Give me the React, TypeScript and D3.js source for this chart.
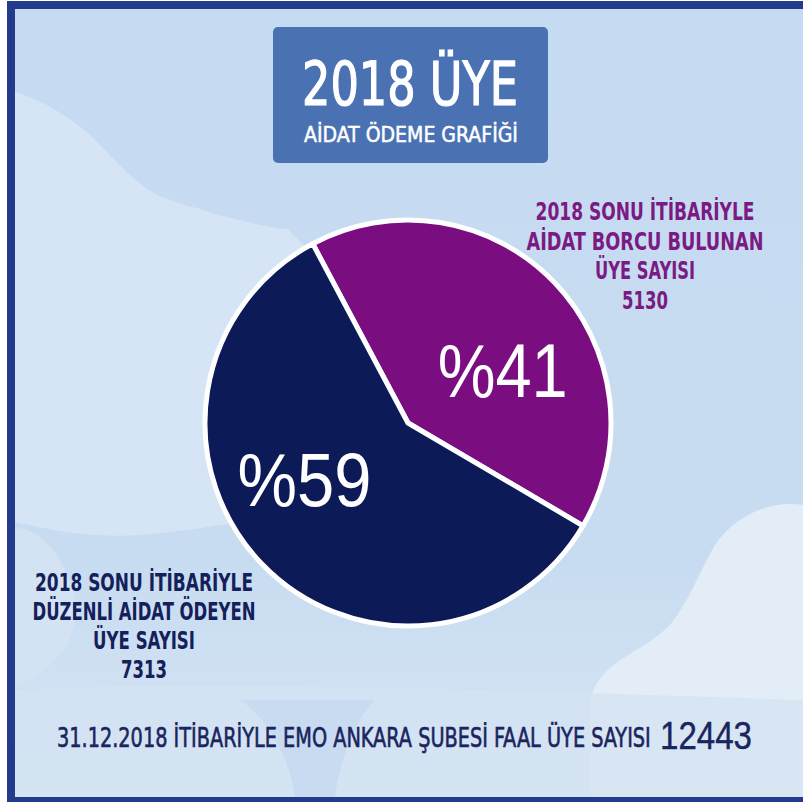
import React, { useLayoutEffect, useRef, useState } from "react";
import * as d3 from "d3";

const W = 803;
const H = 802;

// ---- data ----
const categories = ["Aidat borcu bulunan", "Düzenli aidat ödeyen"];
const values = [5130, 7313];
const percentLabels = ["%41", "%59"];
const totalMembers = 12443;
const colors = ["#7a0e80", "#0d1a58"];

const titleLine1 = "2018 ÜYE";
const titleLine2 = "AİDAT ÖDEME GRAFİĞİ";
const rightLabel = ["2018 SONU İTİBARİYLE", "AİDAT BORCU BULUNAN", "ÜYE SAYISI", String(values[0])];
const leftLabel = ["2018 SONU İTİBARİYLE", "DÜZENLİ AİDAT ÖDEYEN", "ÜYE SAYISI", String(values[1])];
const footerText = "31.12.2018 İTİBARİYLE EMO ANKARA ŞUBESİ FAAL ÜYE SAYISI";

// measured widths of the label lines in the reference
const rightWidths = [219, 237, 100, 46];
const leftWidths = [218, 223, 102, 46];

const NARROW = "'DejaVu Sans Condensed', 'DejaVu Sans', sans-serif";
const SANS = "'Liberation Sans', Arial, sans-serif";

type FitProps = {
  x: number;
  y: number;
  width: number;
  anchor?: "start" | "middle" | "end";
  baseline?: string;
  fill: string;
  family: string;
  size: number;
  weight?: string | number;
  thicken?: number;
  children: string;
};

function FitText({ x, y, width, anchor = "start", baseline, fill, family, size, weight, thicken = 0, children }: FitProps) {
  const ref = useRef<SVGTextElement>(null);
  const [s, setS] = useState(1);
  useLayoutEffect(() => {
    if (ref.current) {
      const w = ref.current.getComputedTextLength();
      if (w > 0) setS(width / w);
    }
  }, [width, children, size, family]);
  return (
    <g transform={`translate(${x},${y}) scale(${s},1)`}>
      <text
        ref={ref}
        x={0}
        y={0}
        textAnchor={anchor}
        dominantBaseline={baseline}
        fill={fill}
        stroke={thicken ? fill : undefined}
        strokeWidth={thicken || undefined}
        fontFamily={family}
        fontSize={size}
        fontWeight={weight}
      >
        {children}
      </text>
    </g>
  );
}

export default function App() {
  const cx = 408;
  const cy = 423;
  const r = 203;
  const start = (-28 * Math.PI) / 180;
  const pie = d3
    .pie<number>()
    .sort(null)
    .startAngle(start)
    .endAngle(start + 2 * Math.PI)
    .value((d) => d);
  const arcs = pie(values);
  const arc = d3.arc<d3.PieArcDatum<number>>().innerRadius(0).outerRadius(r);

  const labelPos = (a: d3.PieArcDatum<number>) => {
    const mid = (a.startAngle + a.endAngle) / 2 + (15 * Math.PI) / 180;
    const rr = a.index === 0 ? 108 : 118;
    return [cx + Math.sin(mid) * rr, cy - Math.cos(mid) * rr];
  };

  return (
    <svg
      width={W}
      height={H}
      viewBox={`0 0 ${W} ${H}`}
      style={{ position: "absolute", left: 0, top: 0, display: "block" }}
    >
      <defs>
        <linearGradient id="bg" x1="0" y1="0" x2="0" y2="1">
          <stop offset="0" stopColor="#c5dbf1" />
          <stop offset="0.7" stopColor="#c8dcf1" />
          <stop offset="1" stopColor="#d6e4f3" />
        </linearGradient>
      </defs>
      <rect x={0} y={0} width={W} height={H} fill="#ffffff" />
      <rect x={15} y={9} width={W - 15} height={788} fill="url(#bg)" />
      {/* light cloud on left */}
      <path
        d="M15,92 C40,100 70,115 95,140 C120,165 140,190 170,200 C200,212 240,215 280,222 L360,300 L340,500 C260,520 200,530 140,535 C90,538 50,530 15,522 Z"
        fill="#d6e5f5"
      />
      <path
        d="M170,150 C200,130 260,140 300,160 C330,180 340,210 320,226 C290,236 250,222 215,214 C185,206 165,180 170,150 Z"
        fill="#c6dbf1"
      />
      {/* lower left light blob */}
      <path d="M15,528 C40,528 65,555 75,600 C80,640 55,672 15,685 Z" fill="#d3e3f4" />
      {/* bottom right white cloud */}
      <path
        d="M803,505 C770,500 735,515 715,545 C700,570 690,600 670,625 C640,655 600,660 590,700 L590,797 L803,797 Z"
        fill="#e3edf8"
      />
      {/* bottom light band */}
      <path d="M15,690 C200,680 500,690 803,700 L803,797 L15,797 Z" fill="#d5e3f3" opacity={0.8} />
      <path d="M240,700 C270,720 290,760 295,797 L335,797 C340,760 355,720 375,700 Z" fill="#c8dbf0" />

      {/* frame */}
      <rect x={7} y={1} width={8} height={801} fill="#233b8c" />
      <rect x={7} y={1} width={W - 7} height={8} fill="#233b8c" />
      <rect x={7} y={797} width={W - 7} height={5} fill="#233b8c" />

      {/* title box */}
      <rect x={273} y={27} width={275} height={136} rx={5} fill="#4a72b3" />
      <FitText x={410} y={105} width={216} anchor="middle" fill="#ffffff" family={NARROW} size={60} thicken={1.2}>
        {titleLine1}
      </FitText>
      <FitText x={411} y={142} width={214} anchor="middle" fill="#ffffff" family={NARROW} size={22} thicken={0.5}>
        {titleLine2}
      </FitText>

      {/* pie */}
      <g transform={`translate(${cx},${cy})`}>
        {arcs.map((a, i) => (
          <path
            key={categories[i]}
            d={arc(a) || ""}
            fill={colors[i]}
            stroke="#ffffff"
            strokeWidth={5}
            strokeLinejoin="round"
          />
        ))}
      </g>
      {arcs.map((a, i) => {
        const [x, y] = labelPos(a);
        return (
          <FitText
            key={"p" + i}
            x={x}
            y={y}
            width={i === 0 ? 130 : 134}
            anchor="middle"
            baseline="central"
            fill="#ffffff"
            family={SANS}
            size={76}
          >
            {percentLabels[i]}
          </FitText>
        );
      })}

      {/* right label */}
      {rightLabel.map((t, i) => (
        <FitText
          key={"r" + i}
          x={645}
          y={220 + i * 29.5}
          width={rightWidths[i]}
          anchor="middle"
          fill="#7a1a82"
          family={NARROW}
          weight="bold"
          size={24}
        >
          {t}
        </FitText>
      ))}

      {/* left label */}
      {leftLabel.map((t, i) => (
        <FitText
          key={"l" + i}
          x={144}
          y={591 + i * 29}
          width={leftWidths[i]}
          anchor="middle"
          fill="#14205a"
          family={NARROW}
          weight="bold"
          size={24}
        >
          {t}
        </FitText>
      ))}

      {/* footer */}
      <FitText x={57} y={747} width={594} fill="#1a2560" family={NARROW} size={27} thicken={0.6}>
        {footerText}
      </FitText>
      <FitText x={660} y={749} width={92} fill="#1a2560" family={SANS} size={38} thicken={0.4}>
        {String(totalMembers)}
      </FitText>
    </svg>
  );
}
